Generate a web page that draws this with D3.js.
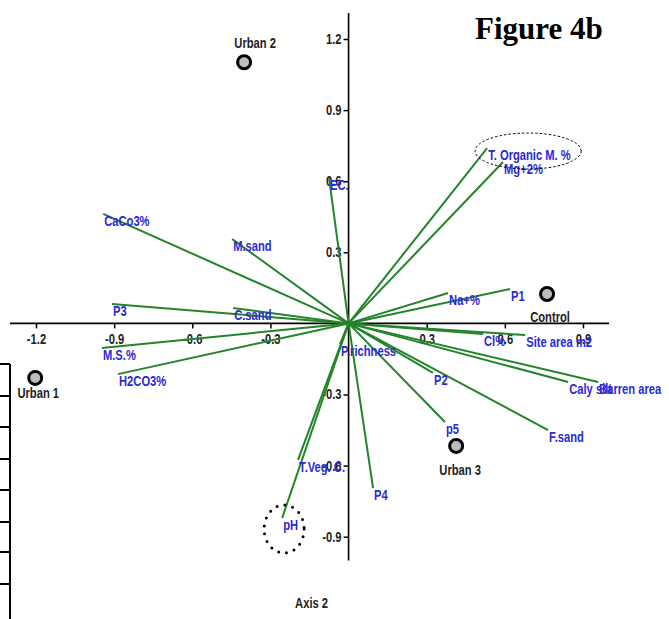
<!DOCTYPE html>
<html>
<head>
<meta charset="utf-8">
<script src="https://cdn.jsdelivr.net/npm/d3@7"></script>
<style>
  body { margin: 0; background: #fff; }
  svg { display: block; }
</style>
</head>
<body>
<div id="chart"></div>
<script>
// environmental variable vectors (axis 1, axis 2)
const varNames = ["T. Organic M. %", "Mg+2%", "EC.", "CaCo3%", "M.sand", "P3", "C.sand", "M.S.%",
  "H2CO3%", "Na+%", "P1", "Cl%", "Site area m2", "Caly silt", "Barren area", "F.sand", "P2",
  "p5", "P4", "T.Veg. C.", "pH", "P.richness"];
const varX = [0.532, 0.593, -0.075, -0.942, -0.447, -0.908, -0.443, -0.947,
  -0.885, 0.382, 0.620, 0.516, 0.678, 0.843, 0.958, 0.766, 0.324,
  0.370, 0.094, -0.194, -0.255, -0.033];
const varY = [0.740, 0.681, 0.614, 0.462, 0.356, 0.082, 0.065, -0.104,
  -0.214, 0.128, 0.145, -0.045, -0.049, -0.247, -0.247, -0.450, -0.209,
  -0.416, -0.695, -0.576, -0.821, -0.087];

// sites
const siteNames = ["Urban 2", "Urban 1", "Control", "Urban 3"];
const siteX = [-0.401, -1.203, 0.762, 0.413];
const siteY = [1.102, -0.230, 0.124, -0.517];

// tick labels
const xTicks = [-1.2, -0.9, -0.6, -0.3, 0.3, 0.6, 0.9];
const yTicks = [-0.9, -0.6, -0.3, 0.3, 0.6, 0.9, 1.2];

const width = 669;
const height = 619;
const font = '"Liberation Sans", Arial, sans-serif';
const squeeze = 0.8; // narrow look of the original labels

// label offsets for site names (layout only)
const siteLabelOffset = {
  "Urban 2": [11, -14],
  "Urban 1": [3, 20],
  "Control": [3, 28],
  "Urban 3": [4, 29]
};

const narrow = (sel, color) => sel
  .attr('fill', color)
  .style('font-family', font)
  .style('font-weight', 'bold')
  .style('font-size', '14px');

const svg = d3.select('#chart').append('svg')
  .attr('width', width)
  .attr('height', height)
  .style('background', '#fff');

const x = d3.scaleLinear().domain([-1.2, 0.9]).range([36, 583]);
const y = d3.scaleLinear().domain([-0.9, 1.2]).range([536.7, 39]);

// remnant table border on the left edge
const border = svg.append('g').attr('stroke', '#000').attr('stroke-width', 2);
border.append('line').attr('x1', 10).attr('x2', 10).attr('y1', 364).attr('y2', height);
border.selectAll('line.row')
  .data([364, 396, 427, 459, 490, 522, 552, 584])
  .join('line')
  .attr('class', 'row')
  .attr('x1', 0).attr('x2', 10)
  .attr('y1', d => d).attr('y2', d => d);

// axis lines through the origin
svg.append('line')
  .attr('x1', x(-1.3)).attr('x2', x(1.0))
  .attr('y1', y(0)).attr('y2', y(0))
  .attr('stroke', '#000').attr('stroke-width', 1.6);
svg.append('line')
  .attr('x1', x(0)).attr('x2', x(0))
  .attr('y1', y(1.31)).attr('y2', y(-1.0))
  .attr('stroke', '#000').attr('stroke-width', 1.6);

const xAxis = svg.append('g')
  .attr('transform', `translate(0,${y(0)})`)
  .call(d3.axisBottom(x).tickValues(xTicks).tickSize(5).tickPadding(6).tickFormat(d => d.toFixed(1)));
const yAxis = svg.append('g')
  .attr('transform', `translate(${x(0)},0)`)
  .call(d3.axisLeft(y).tickValues(yTicks).tickSize(5).tickPadding(2).tickFormat(d => d.toFixed(1)));

[xAxis, yAxis].forEach(g => {
  g.select('.domain').remove();
  g.selectAll('.tick line').attr('stroke', '#000').attr('stroke-width', 1.5);
  g.selectAll('.tick text')
    .call(narrow, '#222')
    .attr('transform', `scale(${squeeze},1)`);
});
yAxis.selectAll('.tick text').attr('x', -7 / squeeze);

// vectors
const vars = varNames.map((name, i) => ({ name, vx: varX[i], vy: varY[i] }));

svg.append('g')
  .selectAll('line')
  .data(vars)
  .join('line')
  .attr('x1', x(0)).attr('y1', y(0))
  .attr('x2', d => x(d.vx)).attr('y2', d => y(d.vy))
  .attr('stroke', '#23842a')
  .attr('stroke-width', 2);

svg.append('g')
  .selectAll('text')
  .data(vars)
  .join('text')
  .attr('transform', d => `translate(${x(d.vx) + 1},${y(d.vy) + 12}) scale(${squeeze},1)`)
  .call(narrow, '#2a2ad8')
  .text(d => d.name);

// highlight rings
const tom = vars[0];
svg.append('ellipse')
  .attr('cx', x(tom.vx) + 41).attr('cy', y(tom.vy) + 3)
  .attr('rx', 53).attr('ry', 18)
  .attr('fill', 'none')
  .attr('stroke', '#000')
  .attr('stroke-width', 1)
  .attr('stroke-dasharray', '2.5,2');

const ph = vars[20];
svg.append('ellipse')
  .attr('cx', x(ph.vx) + 2).attr('cy', y(ph.vy) + 11)
  .attr('rx', 20).attr('ry', 24)
  .attr('fill', 'none')
  .attr('stroke', '#000')
  .attr('stroke-width', 3)
  .attr('stroke-linecap', 'round')
  .attr('stroke-dasharray', '0,8');

// sites
const sites = siteNames.map((name, i) => ({ name, sx: siteX[i], sy: siteY[i] }));

svg.append('g')
  .selectAll('circle')
  .data(sites)
  .join('circle')
  .attr('cx', d => x(d.sx))
  .attr('cy', d => y(d.sy))
  .attr('r', 6.5)
  .attr('fill', '#bdbdbd')
  .attr('stroke', '#000')
  .attr('stroke-width', 3);

svg.append('g')
  .selectAll('text')
  .data(sites)
  .join('text')
  .attr('transform', d => `translate(${x(d.sx) + siteLabelOffset[d.name][0]},${y(d.sy) + siteLabelOffset[d.name][1]}) scale(${squeeze},1)`)
  .attr('text-anchor', 'middle')
  .call(narrow, '#222')
  .text(d => d.name);

// axis title
svg.append('text')
  .attr('transform', `translate(${x(0) - 37},608) scale(${squeeze},1)`)
  .attr('text-anchor', 'middle')
  .call(narrow, '#222')
  .text('Axis 2');

// figure label
svg.append('text')
  .attr('x', 475)
  .attr('y', 39)
  .attr('fill', '#000')
  .style('font-family', '"Liberation Serif", "Times New Roman", serif')
  .style('font-weight', 'bold')
  .style('font-size', '31px')
  .text('Figure 4b');
</script>
</body>
</html>
